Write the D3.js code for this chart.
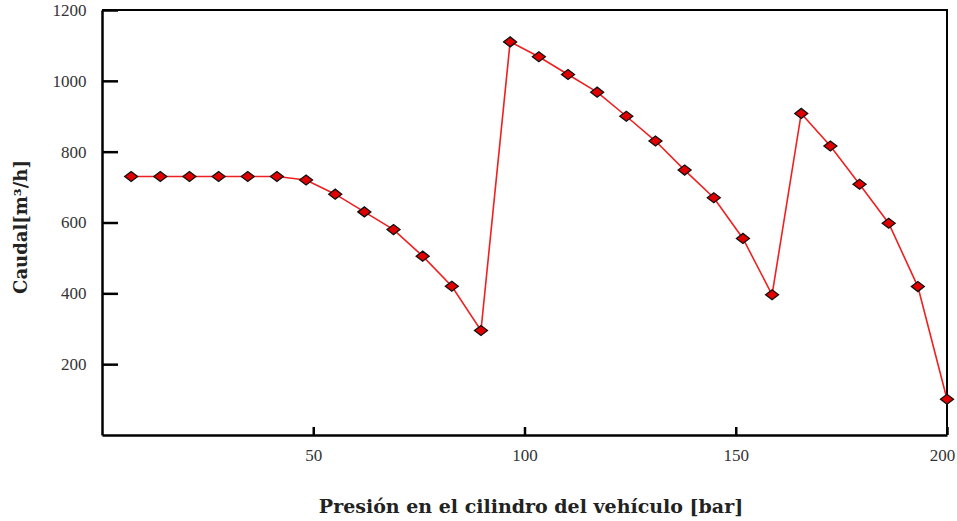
<!DOCTYPE html>
<html>
<head>
<meta charset="utf-8">
<script src="https://cdn.jsdelivr.net/npm/d3@7"></script>
<style>
  body { margin: 0; background: #fff; }
  text { font-family: "Liberation Serif", "DejaVu Serif", serif; }
</style>
</head>
<body>
<div id="chart"></div>
<script>
// data
var presion = [6.9, 13.8, 20.7, 27.6, 34.5, 41.4, 48.3, 55.2, 62.1, 69, 75.9, 82.8, 89.7,
    96.6, 103.4, 110.3, 117.2, 124.1, 131, 137.9, 144.8, 151.7, 158.6,
    165.5, 172.4, 179.3, 186.2, 193.1, 200];
var caudal = [730, 730, 730, 730, 730, 730, 720, 680, 630, 580, 505, 420, 295,
    1110, 1068, 1018, 968, 900, 830, 748, 670, 555, 396,
    908, 816, 708, 598, 419, 101];
var xTicks = [50, 100, 150, 200];
var yTicks = [200, 400, 600, 800, 1000, 1200];

var width = 957, height = 521;
var margin = { top: 10, right: 10, bottom: 86, left: 102 };
var chartWidth = 947 - margin.left;
var chartHeight = 435 - margin.top;

var svg = d3.select('#chart').append('svg')
    .attr('width', width)
    .attr('height', height);

var chartGroup = svg.append('g')
    .attr('transform', `translate(${margin.left}, ${margin.top})`);

var x = d3.scaleLinear().domain([0, 200]).range([0, chartWidth]);
var y = d3.scaleLinear().domain([0, 1200]).range([chartHeight, 0]);

// frame (top + right)
chartGroup.append('path')
    .attr('d', `M0,0H${chartWidth}V${chartHeight}`)
    .attr('fill', 'none')
    .attr('stroke', '#000')
    .attr('stroke-width', 2);

// x axis, ticks inward
var xAxis = chartGroup.append('g')
    .attr('transform', `translate(0, ${chartHeight})`)
    .call(d3.axisBottom(x).tickValues(xTicks).tickFormat(d3.format('d'))
        .tickSizeInner(-8).tickSizeOuter(0).tickPadding(14));

// y axis, ticks inward
var yAxis = chartGroup.append('g')
    .call(d3.axisLeft(y).tickValues(yTicks).tickFormat(d3.format('d'))
        .tickSizeInner(-16).tickSizeOuter(0).tickPadding(12));

[xAxis, yAxis].forEach(function(ax) {
    ax.select('.domain').attr('stroke-width', 2.5);
    ax.selectAll('.tick line').attr('stroke-width', 2.5);
    ax.selectAll('.tick text')
        .style('font-family', '"Liberation Serif", serif')
        .style('font-size', '17px')
        .attr('fill', '#333');
});
yAxis.selectAll('.tick text').attr('dx', '-0.2em');
// last x label sits a bit left so it stays inside the page
xAxis.selectAll('.tick text').filter(d => d === 200).attr('dx', '-5');

var data = presion.map((p, i) => ({ x: p, y: caudal[i] }));

var line = d3.line()
    .x(d => x(d.x))
    .y(d => y(d.y));

chartGroup.append('path')
    .datum(data)
    .attr('d', line)
    .attr('fill', 'none')
    .attr('stroke', '#f02020')
    .attr('stroke-width', 1.6);

// diamond markers
chartGroup.selectAll('.marker')
    .data(data)
    .enter()
    .append('path')
    .attr('class', 'marker')
    .attr('d', 'M-6.5,0L0,-5L6.5,0L0,5Z')
    .attr('transform', d => `translate(${x(d.x)}, ${y(d.y)})`)
    .attr('fill', '#e00000')
    .attr('stroke', '#111')
    .attr('stroke-width', 1.3);

// axis titles
svg.append('text')
    .attr('x', 531)
    .attr('y', 513)
    .attr('text-anchor', 'middle')
    .style('font-family', '"DejaVu Serif", serif')
    .style('font-size', '19px')
    .style('font-weight', 'bold')
    .attr('fill', '#222')
    .text('Presión en el cilindro del vehículo [bar]');

svg.append('text')
    .attr('transform', 'translate(27, 227) rotate(-90)')
    .attr('text-anchor', 'middle')
    .style('font-family', '"DejaVu Serif", serif')
    .style('font-size', '18px')
    .style('font-weight', 'bold')
    .attr('fill', '#222')
    .text('Caudal[m³/h]');
</script>
</body>
</html>
